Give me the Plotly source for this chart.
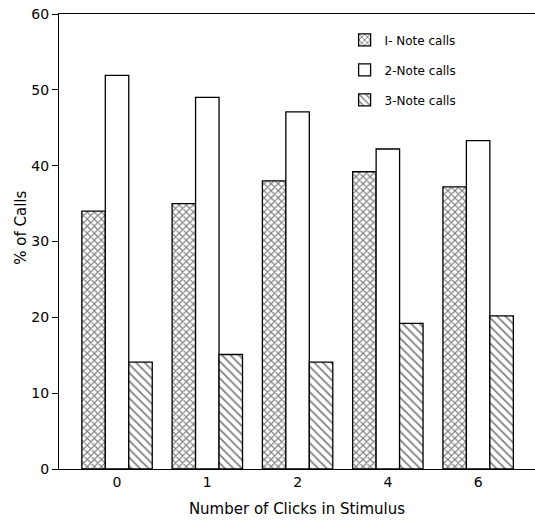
import plotly.graph_objects as go

# Number of clicks in the stimulus (category labels)
clicks = ["0", "1", "2", "4", "6"]

# Percentage of calls by number of notes
one_note = [34.0, 35.0, 38.0, 39.2, 37.2]
two_note = [51.9, 49.0, 47.1, 42.2, 43.3]
three_note = [14.1, 15.1, 14.1, 19.2, 20.2]

series_names = ["I- Note calls", "2-Note calls", "3-Note calls"]
y_ticks = [0, 10, 20, 30, 40, 50, 60]

FONT = "DejaVu Sans"
INK = "black"
line = dict(color=INK, width=1.3)

fig = go.Figure()
fig.add_trace(go.Bar(
    x=clicks, y=one_note, name=series_names[0], legendgroup="a",
    marker=dict(color="white", line=line,
                pattern=dict(shape="x", size=5, solidity=0.4,
                             fgcolor=INK, bgcolor="white")),
))
fig.add_trace(go.Bar(
    x=clicks, y=two_note, name=series_names[1], legendgroup="b",
    marker=dict(color="white", line=line),
))
fig.add_trace(go.Bar(
    x=clicks, y=three_note, name=series_names[2], legendgroup="c",
    marker=dict(color="white", line=line,
                pattern=dict(shape="\\", size=6, solidity=0.3,
                             fgcolor=INK, bgcolor="white")),
))

fig.update_layout(
    width=535, height=521,
    margin=dict(l=59, r=0, t=14, b=52),
    paper_bgcolor="white", plot_bgcolor="white",
    barmode="group", bargap=0.22, bargroupgap=0,
    font=dict(family=FONT, size=13, color=INK),
    showlegend=True,
    legend=dict(x=0.6, y=0.975, xanchor="left", yanchor="top",
                bgcolor="rgba(0,0,0,0)",
                font=dict(size=12, family=FONT, color=INK),
                tracegroupgap=11, itemwidth=30, traceorder="grouped"),
    xaxis=dict(
        type="category", range=[-0.643, 4.63],
        showline=True, linecolor=INK, linewidth=1.3, mirror=True,
        ticks="", showgrid=False, zeroline=False,
        tickfont=dict(size=14, family=FONT, color=INK),
        title=dict(text="Number of Clicks in Stimulus",
                   font=dict(size=15, family=FONT, color=INK), standoff=14),
    ),
    yaxis=dict(
        range=[0, 60], tickvals=y_ticks,
        showline=True, linecolor=INK, linewidth=1.3,
        ticks="outside", ticklen=6, tickcolor=INK, tickwidth=1.2,
        showgrid=False, zeroline=False,
        tickfont=dict(size=14, family=FONT, color=INK),
    ),
    annotations=[dict(
        text="% of Calls", textangle=-90, showarrow=False,
        xref="paper", yref="paper", x=-0.08, y=0.53,
        xanchor="center", yanchor="middle",
        font=dict(size=15, family=FONT, color=INK),
    )],
)

fig.write_html("out.html")
